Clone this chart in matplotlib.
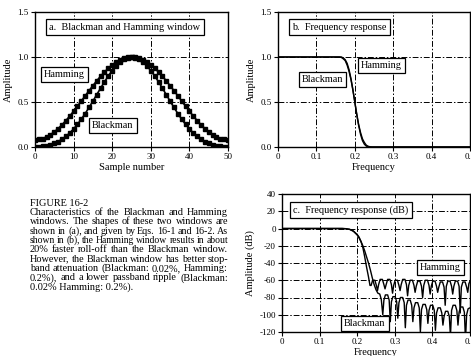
import matplotlib
matplotlib.use("Agg")
import matplotlib.pyplot as plt
import numpy as np

plt.rcParams['font.family'] = ['Liberation Serif', 'DejaVu Serif']

# ---- panel a: window samples ----
samples = np.arange(51)
hamming_half = [0.080, 0.084, 0.094, 0.112, 0.137, 0.168, 0.205, 0.247, 0.294,
                0.344, 0.398, 0.454, 0.511, 0.569, 0.626, 0.682, 0.736, 0.787,
                0.833, 0.875, 0.912, 0.943, 0.968, 0.986, 0.996, 1.000]
blackman_half = [0.000, 0.001, 0.006, 0.013, 0.025, 0.040, 0.061, 0.086, 0.118,
                 0.156, 0.201, 0.252, 0.309, 0.372, 0.439, 0.510, 0.582, 0.654,
                 0.724, 0.790, 0.849, 0.901, 0.943, 0.974, 0.994, 1.000]
hamming_win = hamming_half + hamming_half[-2::-1]
blackman_win = blackman_half + blackman_half[-2::-1]

# ---- panel b: frequency response, linear ----
ham_f = [0, 0.16, 0.165, 0.17, 0.175, 0.18, 0.185, 0.19, 0.195, 0.2, 0.205,
         0.21, 0.215, 0.22, 0.225, 0.23, 0.235, 0.5]
ham_a = [1, 1, 1.0, 0.99, 0.97, 0.93, 0.86, 0.76, 0.64, 0.5, 0.36,
         0.24, 0.14, 0.07, 0.03, 0.01, 0.0, 0.0]
bla_f = [0, 0.16, 0.165, 0.17, 0.175, 0.18, 0.185, 0.19, 0.195, 0.2, 0.205,
         0.21, 0.215, 0.22, 0.225, 0.23, 0.235, 0.24, 0.245, 0.5]
bla_a = [1, 1, 0.995, 0.98, 0.96, 0.91, 0.84, 0.75, 0.63, 0.5, 0.37,
         0.25, 0.16, 0.09, 0.05, 0.02, 0.008, 0.002, 0.0, 0.0]

# ---- panel c: frequency response in dB ----
ham_db_f = [0, 0.16, 0.17, 0.18, 0.19, 0.2, 0.205, 0.21, 0.215, 0.22, 0.225, 0.23, 0.234,
            0.237, 0.241, 0.247, 0.251, 0.254,
            0.257, 0.261, 0.267, 0.271, 0.274,
            0.277, 0.281, 0.287, 0.291, 0.294,
            0.297, 0.301, 0.307, 0.311, 0.314,
            0.317, 0.321, 0.327, 0.331, 0.334,
            0.337, 0.341, 0.347, 0.351, 0.354,
            0.357, 0.361, 0.367, 0.371, 0.374,
            0.377, 0.381, 0.387, 0.391, 0.394,
            0.397, 0.401, 0.407, 0.411, 0.414,
            0.417, 0.421, 0.427, 0.431, 0.434,
            0.437, 0.441, 0.447, 0.451, 0.454,
            0.457, 0.461, 0.467, 0.471, 0.474,
            0.477, 0.481, 0.487, 0.491, 0.494,
            0.497, 0.5]
ham_db = [0, 0, -0.3, -1, -3, -7, -10, -15, -22, -33, -45, -56, -66,
          -66, -60, -60, -66, -72,
          -65, -59, -59, -65, -70,
          -65, -59, -59, -65, -75,
          -66, -60, -60, -66, -72,
          -65, -59, -59, -65, -78,
          -66, -60, -60, -66, -74,
          -67, -61, -61, -67, -80,
          -66, -60, -60, -66, -76,
          -67, -61, -61, -67, -74,
          -68, -62, -62, -68, -89,
          -67, -61, -61, -67, -76,
          -67, -61, -61, -67, -98,
          -68, -62, -62, -68, -74,
          -64, -61]

bla_db_f = [0, 0.16, 0.17, 0.18, 0.19, 0.2, 0.205, 0.21, 0.215, 0.22, 0.225, 0.23,
            0.235, 0.24, 0.245, 0.25, 0.255, 0.26, 0.264, 0.268,
            0.271, 0.275, 0.281, 0.285, 0.288,
            0.291, 0.295, 0.301, 0.305, 0.308,
            0.311, 0.315, 0.321, 0.325, 0.328,
            0.331, 0.335, 0.341, 0.345, 0.348,
            0.351, 0.355, 0.361, 0.365, 0.368,
            0.371, 0.375, 0.381, 0.385, 0.388,
            0.391, 0.395, 0.401, 0.405, 0.408,
            0.411, 0.415, 0.421, 0.425, 0.428,
            0.431, 0.435, 0.441, 0.445, 0.448,
            0.451, 0.455, 0.461, 0.465, 0.468,
            0.471, 0.475, 0.481, 0.485, 0.488,
            0.491, 0.495, 0.5]
bla_db = [0, 0, -0.2, -1, -3.2, -7.5, -11, -15, -20, -26, -33, -40,
          -48, -57, -65, -71, -75, -76, -82, -100,
          -83, -77, -77, -83, -108,
          -85, -79, -79, -85, -104,
          -86, -80, -80, -86, -115,
          -89, -83, -83, -89, -108,
          -92, -86, -86, -92, -120,
          -94, -88, -88, -94, -110,
          -95, -89, -89, -95, -118,
          -98, -92, -92, -98, -112,
          -102, -96, -96, -102, -125,
          -95, -89, -89, -95, -112,
          -97, -91, -91, -97, -130,
          -100, -93, -92]

W, H = 471, 356
fig = plt.figure(figsize=(W / 100, H / 100), dpi=100)


def px_axes(left, top, right, bottom):
    return fig.add_axes([left / W, 1 - bottom / H, (right - left) / W, (bottom - top) / H])


def style(ax):
    for s in ax.spines.values():
        s.set_linewidth(1.0)
    ax.tick_params(labelsize=6.5, length=3, width=0.8, pad=1.5)
    ax.grid(True, color='black', linestyle=(0, (6, 2, 1.5, 2)), linewidth=0.7)
    ax.set_axisbelow(True)


def box(ax, x, y, s):
    ax.text(x, y, s, ha='center', va='center', fontsize=7.4,
            bbox=dict(boxstyle='square,pad=0.3', facecolor='white',
                      edgecolor='black', linewidth=0.9), zorder=5)


# panel a
ax1 = px_axes(35, 12, 228, 147)
ax1.plot(samples, hamming_win, color='black', lw=1.2, marker='s', ms=2.8)
ax1.plot(samples, blackman_win, color='black', lw=1.2, marker='s', ms=2.8)
ax1.set_xlim(0, 50)
ax1.set_ylim(0, 1.5)
ax1.set_xticks([0, 10, 20, 30, 40, 50])
ax1.set_yticks([0, 0.5, 1.0, 1.5])
ax1.set_yticklabels(['0.0', '0.5', '1.0', '1.5'])
style(ax1)
ax1.set_xlabel('Sample number', fontsize=7.5, labelpad=1)
ax1.set_ylabel('Amplitude', fontsize=7.5, labelpad=3)
box(ax1, 23.3, 1.333, 'a.  Blackman and Hamming window')
box(ax1, 7.6, 0.81, 'Hamming')
box(ax1, 20.2, 0.239, 'Blackman')

# panel b
ax2 = px_axes(278, 12, 470, 147)
ax2.plot(ham_f, ham_a, color='black', lw=1.0)
ax2.plot(bla_f, bla_a, color='black', lw=1.0)
ax2.set_xlim(0, 0.5)
ax2.set_ylim(0, 1.5)
ax2.set_xticks([0, 0.1, 0.2, 0.3, 0.4, 0.5])
ax2.set_xticklabels(['0', '0.1', '0.2', '0.3', '0.4', '0.5'])
ax2.set_yticks([0, 0.5, 1.0, 1.5])
ax2.set_yticklabels(['0.0', '0.5', '1.0', '1.5'])
style(ax2)
ax2.set_xlabel('Frequency', fontsize=7.5, labelpad=1)
ax2.set_ylabel('Amplitude', fontsize=7.5, labelpad=3)
box(ax2, 0.160, 1.333, 'b.  Frequency response')
box(ax2, 0.2695, 0.906, 'Hamming')
box(ax2, 0.116, 0.75, 'Blackman')

# panel c
ax3 = px_axes(282, 194, 470, 332)
ax3.plot(ham_db_f, ham_db, color='black', lw=1.0)
ax3.plot(bla_db_f, bla_db, color='black', lw=1.0)
ax3.set_xlim(0, 0.5)
ax3.set_ylim(-120, 40)
ax3.set_xticks([0, 0.1, 0.2, 0.3, 0.4, 0.5])
ax3.set_xticklabels(['0', '0.1', '0.2', '0.3', '0.4', '0.5'])
ax3.set_yticks([40, 20, 0, -20, -40, -60, -80, -100, -120])
ax3.set_yticklabels(['40', '20', '0', '-20', '-40', '-60', '-80', '-100', '-120'])
style(ax3)
ax3.set_xlabel('Frequency', fontsize=7.5, labelpad=1)
ax3.set_ylabel('Amplitude (dB)', fontsize=7.5, labelpad=3)
box(ax3, 0.183, 21.3, 'c.  Frequency response (dB)')
box(ax3, 0.421, -45.6, 'Hamming')
box(ax3, 0.22, -110, 'Blackman')

# caption, justified line by line
caption = [
    "Characteristics of the Blackman and Hamming",
    "windows.  The shapes of these two windows are",
    "shown in (a), and given by Eqs. 16-1 and 16-2.  As",
    "shown in (b), the Hamming window results in about",
    "20% faster roll-off than the Blackman window.",
    "However, the Blackman window has better stop-",
    "band attenuation (Blackman: 0.02%, Hamming:",
    "0.2%), and a lower passband ripple (Blackman:",
    "0.02% Hamming: 0.2%).",
]
cap_left, cap_right = 30, 228
cap_size = 7.4
line_h = 9.3
min_gap = 2.2
renderer = fig.canvas.get_renderer()


def word_widths(words, size):
    tmp = [fig.text(0, 0, w, fontsize=size) for w in words]
    ws = [t.get_window_extent(renderer).width for t in tmp]
    for t in tmp:
        t.remove()
    return ws


fig.text(cap_left / W, 1 - 203.3 / H, 'FIGURE 16-2', fontsize=cap_size, va='center')
for i, line in enumerate(caption):
    yc = 1 - (203.3 + line_h * (i + 1)) / H
    words = line.split()
    if i == len(caption) - 1:
        fig.text(cap_left / W, yc, line, fontsize=cap_size, va='center')
        continue
    size = cap_size
    widths = word_widths(words, size)
    room = cap_right - cap_left - min_gap * (len(words) - 1)
    if sum(widths) > room:
        size = cap_size * room / sum(widths)
        widths = word_widths(words, size)
    gap = (cap_right - cap_left - sum(widths)) / (len(words) - 1)
    x = cap_left
    for w, wd in zip(words, widths):
        fig.text(x / W, yc, w, fontsize=size, va='center')
        x += wd + gap

fig.savefig('out.png', dpi=100)
